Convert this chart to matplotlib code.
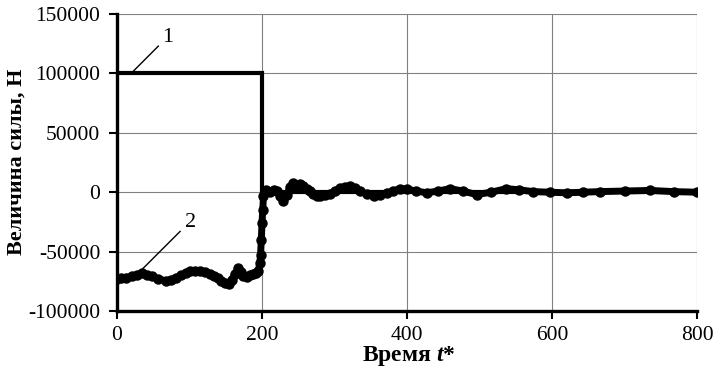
import matplotlib
matplotlib.use("Agg")
import matplotlib.pyplot as plt

plt.rcParams["font.family"] = ["Liberation Serif", "DejaVu Serif"]
plt.rcParams["mathtext.fontset"] = "custom"
plt.rcParams["mathtext.bfit"] = "Liberation Serif:italic:bold"
plt.rcParams["mathtext.it"] = "Liberation Serif:italic"
plt.rcParams["mathtext.rm"] = "Liberation Serif"
plt.rcParams["axes.unicode_minus"] = False

# series 1: applied step force
t1 = [0, 200, 200, 800]
f1 = [100000, 100000, 0, 0]

# series 2: response force
t2 = [0, 5, 12, 21, 28, 35, 42, 48, 57, 67, 75, 81, 88, 95, 101, 108, 115,
      122, 128, 134, 139, 144, 149, 154, 158, 163, 167, 171, 174, 179, 183,
      188, 192, 195, 197, 198, 199, 200, 201, 202, 206, 211, 216, 220, 225,
      229, 234, 239, 243, 248, 252, 257, 262, 266, 271, 276, 280, 287, 294,
      301, 308, 315, 321, 328, 335, 345, 354, 363, 372, 381, 390, 400, 413,
      427, 443, 459, 477, 496, 516, 537, 555, 574, 597, 620, 643, 666, 700,
      735, 768, 800]
f2 = [-73000, -72500, -71800, -70900, -69500, -68100, -69500, -70900, -72900,
      -74600, -73500, -72300, -70000, -68000, -66100, -66500, -66500, -67500,
      -68500, -70500, -72300, -74500, -76500, -77500, -73700, -68500, -63900,
      -67000, -70900, -71500, -69500, -69000, -68100, -66000, -59600, -52600,
      -40000, -26000, -14600, -3400, 1500, 0, 2000, 1000, -3000, -7600, -2000,
      4500, 7900, 5000, 6500, 5500, 3000, 650, -1500, -3400, -3400, -2500,
      -1700, 1000, 3700, 4500, 5100, 3500, 650, -1500, -3400, -2500, -1000,
      1000, 3000, 2500, 1000, -500, 1000, 3000, 1000, -2000, 0, 3000, 2000,
      500, 0, -500, 0, 500, 1000, 1500, 500, 0]

x_ticks = [0, 200, 400, 600, 800]
y_ticks = [-100000, -50000, 0, 50000, 100000, 150000]

fig = plt.figure(figsize=(7.14, 3.71), dpi=100)
ax = fig.add_axes([0.1639, 0.1617, 0.8123, 0.8005])

ax.plot(t1, f1, color="black", lw=3.0, solid_joinstyle="miter", zorder=3)
ax.plot(t2, f2, color="black", lw=5.0, marker="o", ms=6.5,
        solid_capstyle="round", zorder=4)

ax.set_xlim(0, 800)
ax.set_ylim(-100000, 150000)
ax.set_xticks(x_ticks)
ax.set_yticks(y_ticks)
ax.tick_params(labelsize=15.5, width=1.5, length=6, direction="out", colors="black")
ax.tick_params(axis="y", pad=6)
ax.tick_params(axis="x", pad=5)
ax.grid(True, color="#808080", lw=0.8)
ax.set_axisbelow(True)
for s in ["top", "right"]:
    ax.spines[s].set_visible(False)
for s in ["left", "bottom"]:
    ax.spines[s].set_linewidth(2.4)

fig.text(409 / 714, 1 - 356 / 371, r"Время $\mathbfit{t}$*", fontsize=17,
         fontweight="bold", ha="center", va="center")
fig.text(17 / 714, 1 - 162 / 371, "Величина силы, Н", fontsize=16,
         fontweight="bold", ha="center", va="center", rotation=90)

# curve labels with leader lines
ax.plot([22, 57], [101600, 123000], color="black", lw=1)
ax.text(70, 130000, "1", fontsize=16, ha="center", va="center")
ax.plot([34, 87], [-65300, -33000], color="black", lw=1)
ax.text(102, -25600, "2", fontsize=16, ha="center", va="center")

fig.savefig("out.png", dpi=100)
